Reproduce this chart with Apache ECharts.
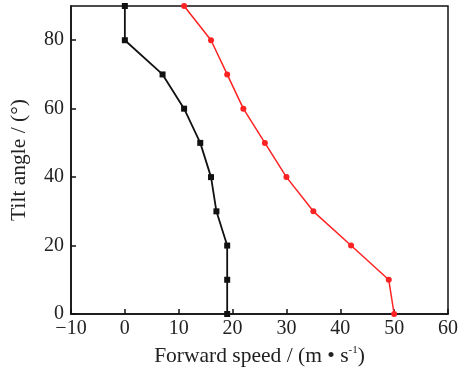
<!DOCTYPE html>
<html>
<head>
<meta charset="utf-8">
<script src="https://cdn.jsdelivr.net/npm/echarts@6/dist/echarts.min.js"></script>
<style>html,body{margin:0;padding:0;background:#fff;}#c{width:461px;height:372px;}</style>
</head>
<body>
<div id="c"></div>
<script>
const tiltAngles = [90, 80, 70, 60, 50, 40, 30, 20, 10, 0];
const blackSpeeds = [0, 0, 7, 11, 14, 16, 17, 19, 19, 19];
const redSpeeds = [11, 16, 19, 22, 26, 30, 35, 42, 49, 50];
const xTicks = [-10, 0, 10, 20, 30, 40, 50, 60];
const yTicks = [0, 20, 40, 60, 80];

const font = '"Liberation Serif", "DejaVu Serif", serif';
const chart = echarts.init(document.getElementById('c'));
chart.setOption({
  animation: false,
  grid: { left: 70, right: 12, top: 6, bottom: 56, show: true, borderColor: '#111', borderWidth: 1.5, backgroundColor: 'transparent' },
  xAxis: {
    type: 'value', min: xTicks[0], max: xTicks[xTicks.length - 1], interval: 10,
    name: '{a|Forward speed / (m • s}{s|-1}{a|)}', nameLocation: 'middle', nameGap: 31,
    nameTextStyle: { rich: { a: { fontFamily: font, fontSize: 21.5, color: '#222' }, s: { fontFamily: font, fontSize: 11, color: '#222', verticalAlign: 'top', padding: [0, 0, 9, 0] } } },
    axisLine: { onZero: false, lineStyle: { color: '#111', width: 1.5 } },
    axisTick: { inside: true, length: 5, lineStyle: { color: '#111', width: 1.5 } },
    splitLine: { show: false },
    axisLabel: { fontFamily: font, fontSize: 20, color: '#222', margin: 5, formatter: v => (v < 0 ? '\u2212' + Math.abs(v) : '' + v) }
  },
  yAxis: {
    type: 'value', min: 0, max: 90, interval: 20,
    name: 'Tilt angle / (°)', nameLocation: 'middle', nameGap: 41,
    nameTextStyle: { fontFamily: font, fontSize: 21.5, color: '#222' },
    axisLine: { onZero: false, lineStyle: { color: '#111', width: 1.5 } },
    axisTick: { inside: true, length: 5, lineStyle: { color: '#111', width: 1.5 } },
    splitLine: { show: false },
    axisLabel: { fontFamily: font, fontSize: 20, color: '#222', margin: 7, showMaxLabel: false,
      formatter: v => (yTicks.indexOf(v) >= 0 ? '' + v : '') }
  },
  series: [
    {
      type: 'line', data: tiltAngles.map((a, i) => [blackSpeeds[i], a]),
      symbol: 'rect', symbolSize: 6, color: '#111',
      lineStyle: { color: '#111', width: 1.8 }, itemStyle: { color: '#111' }
    },
    {
      type: 'line', data: tiltAngles.map((a, i) => [redSpeeds[i], a]),
      symbol: 'circle', symbolSize: 6, color: '#f22',
      lineStyle: { color: '#f22', width: 1.5 }, itemStyle: { color: '#f22' }
    }
  ]
});
</script>
</body>
</html>
